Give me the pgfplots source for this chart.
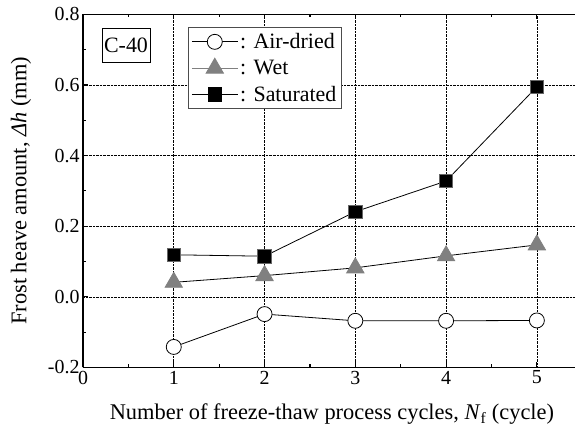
\documentclass[border=0pt]{standalone}
\usepackage{fontspec}
\setmainfont{Liberation Serif}
\usepackage{pgfplots}
\usepackage{pgfplotstable}
\pgfplotsset{compat=1.18}

% frost heave, C-40
\pgfplotstableread{
x y
1 -0.142
2 -0.049
3 -0.068
4 -0.068
5 -0.067
}\airdried
\pgfplotstableread{
x y
1 0.041
2 0.060
3 0.082
4 0.116
5 0.147
}\wet
\pgfplotstableread{
x y
1 0.119
2 0.115
3 0.241
4 0.328
5 0.595
}\saturated

\begin{document}
\begin{tikzpicture}
\begin{axis}[
  scale only axis,
  width=492bp, height=353bp,
  xmin=0, xmax=5.42, ymin=-0.2, ymax=0.8,
  xtick={0,1,2,3,4,5}, minor x tick num=1,
  ytick={-0.2,0,0.2,0.4,0.6,0.8}, minor y tick num=1,
  axis y line*=left,
  tick align=inside,
  major tick length=5bp, minor tick length=3bp,
  every tick/.style={black, line width=1.2pt},
  axis line style={line width=1.6pt},
  grid=major,
  major grid style={densely dotted, black, line width=0.6pt},
  /pgf/number format/assume math mode=true,
  tick label style={font=\fontsize{20}{21}\selectfont},
  yticklabel style={/pgf/number format/.cd, fixed, fixed zerofill, precision=1},
  xlabel={Number of freeze-thaw process cycles, \textit{N}\textsubscript{f} (cycle)},
  ylabel={Frost heave amount, \textit{Δh} (mm)},
  label style={font=\fontsize{22.5}{24}\selectfont},
  x label style={at={(axis description cs:0.506,-0.131)}, anchor=center},
  y label style={at={(axis description cs:-0.126,0.5)}, anchor=center},
  legend style={at={(rel axis cs:0.2134,0.964)}, anchor=north west,
    draw=black!70, line width=0.8pt, font=\fontsize{22}{24}\selectfont,
    inner xsep=3bp, inner ysep=4bp, row sep=6bp},
  legend cell align=left,
  legend image code/.code={\draw[mark repeat=2,mark phase=2,#1] plot coordinates {(0bp,0bp) (23bp,0bp) (46bp,0bp)};},
]
\coordinate (bl) at (rel axis cs:0,0);
\coordinate (tr) at (rel axis cs:1,1);

\addlegendimage{black, line width=0.8pt, mark=*, mark size=7.5bp, mark options={fill=white, line width=0.8pt}}
\addlegendentry{: Air-dried}
\addlegendimage{gray, line width=0.8pt, mark=triangle*, mark size=10bp, mark options={fill=gray, draw=gray}}
\addlegendentry{: Wet}
\addlegendimage{black, line width=0.8pt, mark=square*, mark size=6.7bp, mark options={fill=black}}
\addlegendentry{: Saturated}

\addplot[forget plot, black, line width=0.8pt, mark=*, mark size=7.5bp, mark options={fill=white, line width=0.8pt}] table {\airdried};
\addplot[forget plot, black, line width=0.8pt, mark=triangle*, mark size=10bp, mark options={fill=gray, draw=gray}] table {\wet};
\addplot[forget plot, black, line width=0.8pt, mark=square*, mark size=6.7bp, mark options={fill=black, draw=black!60}] table {\saturated};

\node[draw, line width=0.7pt, inner sep=1bp, minimum width=48bp, minimum height=34bp, font=\fontsize{22}{24}\selectfont] at (rel axis cs:0.0874,0.913) {C-40};
\end{axis}
\pgfresetboundingbox
\path[use as bounding box] ([shift={(-83bp,-61.6bp)}]bl) rectangle ([shift={(1bp,14.4bp)}]tr);
\end{tikzpicture}
\end{document}
